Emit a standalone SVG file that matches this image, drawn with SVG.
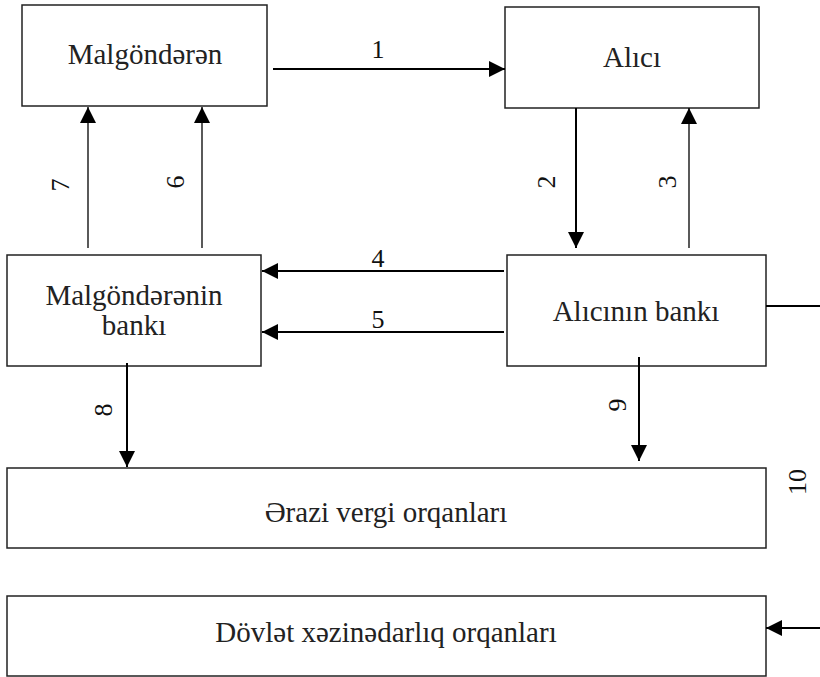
<svg xmlns="http://www.w3.org/2000/svg" width="820" height="677" viewBox="0 0 820 677" font-family="'Liberation Serif', 'Times New Roman', Times, serif">
  <style>
    .box { fill: #ffffff; stroke: #222222; stroke-width: 1.5; }
    .label { font-size: 29px; fill: #222222; text-anchor: middle; }
    .num { font-size: 26px; fill: #111111; text-anchor: middle; }
    .vnum { font-size: 26px; fill: #111111; text-anchor: middle; dominant-baseline: central; }
    .thick { fill: none; stroke: #000000; stroke-width: 2; }
    .thin { fill: none; stroke: #000000; stroke-width: 1.3; }
  </style>
  <defs>
    <marker id="head" viewBox="0 0 16 16" refX="16" refY="8" markerWidth="16" markerHeight="16" markerUnits="userSpaceOnUse" orient="auto">
      <path d="M0,0 L16,8 L0,16 Z" fill="#000000"/>
    </marker>
  </defs>

  <rect width="820" height="677" fill="#ffffff"/>

  <!-- Nodes -->
  <g id="malgonderen">
    <rect class="box" x="22" y="5" width="245" height="101"/>
    <text class="label" x="145" y="64">Malgöndərən</text>
  </g>
  <g id="alici">
    <rect class="box" x="505" y="7" width="254" height="101"/>
    <text class="label" x="632" y="67">Alıcı</text>
  </g>
  <g id="malgonderen-banki">
    <rect class="box" x="7" y="255" width="254" height="111"/>
    <text class="label" x="134" y="305">Malgöndərənin</text>
    <text class="label" x="134" y="335">bankı</text>
  </g>
  <g id="alici-banki">
    <rect class="box" x="507" y="255" width="259" height="111"/>
    <text class="label" x="636" y="321">Alıcının bankı</text>
  </g>
  <g id="erazi-vergi">
    <rect class="box" x="7" y="468" width="759" height="80"/>
    <text class="label" x="386" y="522">Ərazi vergi orqanları</text>
  </g>
  <g id="dovlet-xezinedarliq">
    <rect class="box" x="7" y="596" width="759" height="80"/>
    <text class="label" x="386" y="642">Dövlət xəzinədarlıq orqanları</text>
  </g>

  <!-- Connectors -->
  <g id="connectors">
    <path class="thick" d="M273,69 H505" marker-end="url(#head)"/>
    <path class="thick" d="M576,108 V248" marker-end="url(#head)"/>
    <path class="thin" d="M689,248 V108" marker-end="url(#head)"/>
    <path class="thick" d="M504,271 H262" marker-end="url(#head)"/>
    <path class="thick" d="M504,332 H262" marker-end="url(#head)"/>
    <path class="thin" d="M202,248 V107" marker-end="url(#head)"/>
    <path class="thin" d="M88,248 V107" marker-end="url(#head)"/>
    <path class="thick" d="M127,363 V467" marker-end="url(#head)"/>
    <path class="thick" d="M639,357 V461" marker-end="url(#head)"/>
    <path class="thick" d="M766,306 H834 V628 H766" marker-end="url(#head)"/>

    <text class="num" x="378" y="58">1</text>
    <text class="num" x="378" y="267">4</text>
    <text class="num" x="378" y="328">5</text>
    <text class="vnum" transform="translate(60,185) rotate(-90)">7</text>
    <text class="vnum" transform="translate(175,182) rotate(-90)">6</text>
    <text class="vnum" transform="translate(546,182) rotate(-90)">2</text>
    <text class="vnum" transform="translate(667,182) rotate(-90)">3</text>
    <text class="vnum" transform="translate(103,410) rotate(-90)">8</text>
    <text class="vnum" transform="translate(617,405) rotate(-90)">9</text>
    <text class="vnum" transform="translate(797,482) rotate(-90)">10</text>
  </g>
</svg>
